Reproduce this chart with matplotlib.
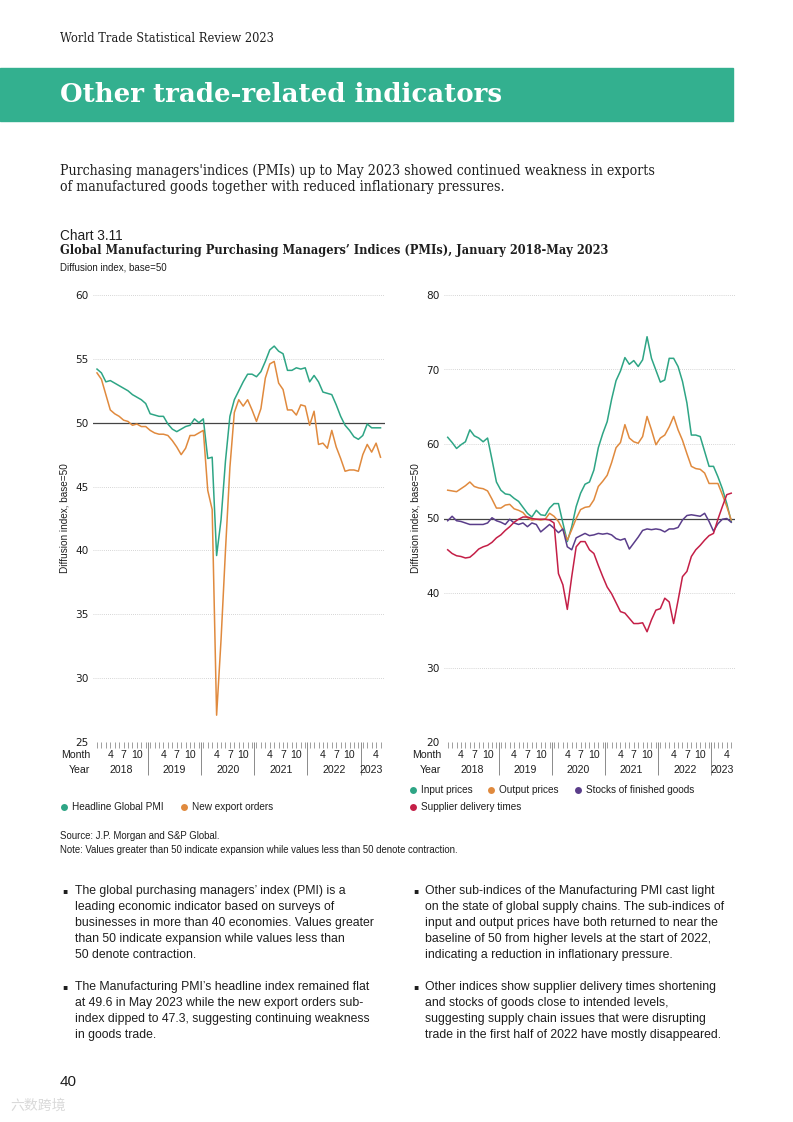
import numpy as np
import matplotlib
matplotlib.use('Agg')
import matplotlib.pyplot as plt
from matplotlib.patches import Rectangle
from matplotlib.lines import Line2D
import matplotlib.transforms as mtransforms

# Données (janvier 2018 - mai 2023, 65 mois)
headline_pmi = [54.2, 53.9, 53.2, 53.3, 53.1, 52.9, 52.7, 52.5, 52.2, 52.0, 51.8, 51.5,
                50.7, 50.6, 50.5, 50.5, 49.9, 49.5, 49.3, 49.5, 49.7, 49.8, 50.3, 50.0,
                50.3, 47.2, 47.3, 39.6, 42.4, 47.0, 50.5, 51.8, 52.5, 53.2, 53.8, 53.8,
                53.6, 54.0, 54.8, 55.7, 56.0, 55.6, 55.4, 54.1, 54.1, 54.3, 54.2, 54.3,
                53.2, 53.7, 53.2, 52.4, 52.3, 52.2, 51.4, 50.5, 49.8, 49.4, 48.9, 48.7,
                49.0, 49.9, 49.6, 49.6, 49.6]
export_orders = [53.9, 53.4, 52.2, 51.0, 50.7, 50.5, 50.2, 50.1, 49.8, 49.9, 49.7, 49.7,
                 49.4, 49.2, 49.1, 49.1, 49.0, 48.6, 48.1, 47.5, 48.0, 49.0, 49.0, 49.2,
                 49.4, 44.7, 43.2, 27.1, 33.0, 40.0, 46.5, 50.8, 51.8, 51.3, 51.8, 51.0,
                 50.1, 51.1, 53.5, 54.6, 54.8, 53.1, 52.6, 51.0, 51.0, 50.6, 51.4, 51.3,
                 49.8, 50.9, 48.3, 48.4, 48.0, 49.4, 48.1, 47.2, 46.2, 46.3, 46.3, 46.2,
                 47.5, 48.3, 47.7, 48.4, 47.3]

input_prices = [60.9, 60.2, 59.4, 59.9, 60.3, 61.9, 61.1, 60.8, 60.3, 60.8, 57.9, 54.9,
                53.8, 53.3, 53.2, 52.7, 52.3, 51.5, 50.7, 50.2, 51.1, 50.5, 50.4, 51.4,
                52.0, 52.0, 49.4, 46.9, 48.9, 51.6, 53.4, 54.6, 54.9, 56.5, 59.5, 61.4,
                63.0, 66.0, 68.5, 69.8, 71.6, 70.7, 71.2, 70.4, 71.3, 74.4, 71.5, 69.9,
                68.3, 68.6, 71.5, 71.5, 70.4, 68.4, 65.5, 61.2, 61.2, 61.0, 59.0, 57.0,
                57.0, 55.6, 54.0, 52.0, 49.6]
output_prices = [53.8, 53.7, 53.6, 54.0, 54.4, 54.9, 54.3, 54.1, 54.0, 53.7, 52.6, 51.4,
                 51.4, 51.8, 51.9, 51.3, 51.1, 50.8, 50.1, 49.8, 49.9, 49.8, 49.9, 50.7,
                 50.3, 49.6, 48.5, 47.1, 48.5, 50.0, 51.2, 51.5, 51.6, 52.5, 54.3, 55.0,
                 55.8, 57.5, 59.5, 60.2, 62.6, 60.8, 60.3, 60.1, 61.0, 63.7, 61.9, 59.9,
                 60.8, 61.2, 62.3, 63.7, 61.9, 60.5, 58.7, 57.0, 56.7, 56.6, 56.1, 54.7,
                 54.7, 54.7, 53.2, 51.6, 49.8]
stocks_finished = [49.7, 50.3, 49.7, 49.6, 49.4, 49.2, 49.2, 49.2, 49.2, 49.4, 50.1, 49.7,
                   49.5, 49.2, 49.9, 49.4, 49.2, 49.4, 48.9, 49.4, 49.2, 48.2, 48.7, 49.2,
                   48.7, 48.1, 48.6, 46.2, 45.8, 47.4, 47.7, 48.0, 47.7, 47.8, 48.0, 47.9,
                   48.0, 47.8, 47.3, 47.1, 47.3, 45.9, 46.7, 47.5, 48.4, 48.6, 48.5, 48.6,
                   48.5, 48.2, 48.6, 48.6, 48.8, 49.8, 50.4, 50.5, 50.4, 50.3, 50.7, 49.6,
                   48.3, 49.3, 49.9, 50.0, 49.5]
supplier_delivery = [45.8, 45.3, 45.0, 44.9, 44.7, 44.8, 45.3, 45.9, 46.2, 46.4, 46.8, 47.4,
                     47.8, 48.4, 48.9, 49.5, 49.9, 50.2, 50.2, 50.0, 49.9, 49.9, 49.9, 49.8,
                     49.4, 42.6, 41.1, 37.8, 42.2, 46.2, 46.9, 46.9, 45.8, 45.3, 43.7, 42.2,
                     40.8, 39.9, 38.7, 37.5, 37.3, 36.6, 35.9, 35.9, 36.0, 34.8, 36.4, 37.7,
                     37.9, 39.3, 38.8, 35.9, 39.0, 42.2, 42.9, 44.9, 45.8, 46.4, 47.1, 47.7,
                     48.0, 49.9, 51.6, 53.2, 53.4]

years = ['2018', '2019', '2020', '2021', '2022', '2023']
month_labels = ['4', '7', '10']

GREEN = '#2ea585'
ORANGE = '#e08a3e'
PURPLE = '#5a3d8a'
RED = '#c41f47'
BANNER = '#33b08f'
TXT = '#1e1e1e'

SANS = ['Liberation Sans', 'DejaVu Sans']
SERIF = ['DejaVu Serif']

W, H = 793, 1122
fig = plt.figure(figsize=(W / 100, H / 100), dpi=100)


def fx(x):
    return x / W


def fy(y):
    return 1 - y / H


def page_text(x, y, s, **kw):
    kw.setdefault('color', TXT)
    kw.setdefault('va', 'center')
    kw.setdefault('ha', 'left')
    fig.text(fx(x), fy(y), s, **kw)


# En-tête de page
page_text(60, 38, 'World Trade Statistical Review 2023', family=SERIF, fontsize=9.2,
          fontstretch='condensed')
fig.patches.append(Rectangle((0, fy(121)), 733 / W, (121 - 68) / H,
                             transform=fig.transFigure, color=BANNER, zorder=0))
page_text(60, 95, 'Other trade-related indicators', family=SERIF, fontsize=18.7,
          fontweight='bold', color='white')
page_text(60, 171, "Purchasing managers'indices (PMIs) up to May 2023 showed continued weakness in exports",
          family=SERIF, fontsize=10.1, fontstretch='condensed')
page_text(60, 187, 'of manufactured goods together with reduced inflationary pressures.',
          family=SERIF, fontsize=10.1, fontstretch='condensed')

page_text(60, 236, 'Chart 3.11', family=SANS, fontsize=9.8)
page_text(60, 251, "Global Manufacturing Purchasing Managers\u2019 Indices (PMIs), January 2018-May 2023",
          family=SERIF, fontsize=9.1, fontweight='bold', fontstretch='condensed')
page_text(60, 268, 'Diffusion index, base=50', family=SANS, fontsize=7)


def make_panel(left_px, right_px, x0_px, ylim, yticks, gridticks, series):
    # x0_px : position du premier mois (janvier 2018) en pixels
    step = 4.43
    ax = fig.add_axes([fx(left_px), fy(742), (right_px - left_px) / W, (742 - 295) / H])
    ax.set_xlim((left_px - x0_px) / step, (right_px - x0_px) / step)
    ax.set_ylim(*ylim)
    for s in ax.spines.values():
        s.set_visible(False)
    for g in gridticks:
        ax.axhline(g, color='#c8c8c8', lw=0.6, ls=(0, (1, 1.5)), zorder=0)
    ax.axhline(50, color='#444444', lw=0.9, zorder=1)
    x = np.arange(65)
    for vals, col in series:
        ax.plot(x, vals, color=col, lw=1.1, zorder=3)
    ax.set_yticks(yticks)
    ax.tick_params(axis='y', length=0, labelsize=7.6, labelcolor=TXT, pad=3)
    # graduations mensuelles et séparateurs d'années
    ax.set_xticks(np.arange(11.5, 60, 12))
    ax.set_xticks(np.arange(65), minor=True)
    ax.tick_params(axis='x', which='major', length=24, width=0.6, color='#777777',
                   labelbottom=False, direction='out')
    ax.tick_params(axis='x', which='minor', length=4.5, width=0.5, color='#777777',
                   direction='out')
    trans = mtransforms.blended_transform_factory(ax.transData, ax.transAxes)
    dy_month = -13 / (742 - 295)
    dy_year = -28 / (742 - 295)
    for k, yr in enumerate(years):
        start = 12 * k
        for lab, m in zip(month_labels, [3, 6, 9]):
            if start + m <= 64:
                ax.text(start + m, dy_month, lab, transform=trans, ha='center', va='center',
                        fontsize=7.6, family=SANS, color=TXT)
        end = min(start + 11.5, 64.5)
        ax.text((start - 0.5 + end) / 2, dy_year, yr, transform=trans, ha='center',
                va='center', fontsize=7.6, family=SANS, color=TXT)
    ax.text(-1.5, dy_month, 'Month', transform=trans,
            ha='right', va='center', fontsize=7.6, family=SANS, color=TXT)
    ax.text(-1.5, dy_year, 'Year', transform=trans, ha='right', va='center',
            fontsize=7.6, family=SANS, color=TXT)
    ax.set_ylabel('Diffusion index, base=50', fontsize=7.2, family=SANS, color=TXT, labelpad=4)
    return ax


make_panel(93, 385, 97, (25, 60), [25, 30, 35, 40, 45, 50, 55, 60],
           [30, 35, 40, 45, 55, 60],
           [(headline_pmi, GREEN), (export_orders, ORANGE)])
make_panel(444, 735, 447.7, (20, 80), [20, 30, 40, 50, 60, 70, 80],
           [30, 40, 60, 70, 80],
           [(input_prices, GREEN), (output_prices, ORANGE),
            (stocks_finished, PURPLE), (supplier_delivery, RED)])


def legend_item(x, y, color, label):
    fig.lines.append(Line2D([fx(x)], [fy(y)], marker='o', markersize=5, color=color,
                            markeredgewidth=0, transform=fig.transFigure))
    page_text(x + 8, y, label, family=SANS, fontsize=7.2)


legend_item(64, 807, GREEN, 'Headline Global PMI')
legend_item(184, 807, ORANGE, 'New export orders')
legend_item(413, 790, GREEN, 'Input prices')
legend_item(491, 790, ORANGE, 'Output prices')
legend_item(578, 790, PURPLE, 'Stocks of finished goods')
legend_item(413, 807, RED, 'Supplier delivery times')

page_text(60, 836, 'Source: J.P. Morgan and S&P Global.', family=SANS, fontsize=6.9)
page_text(60, 850, 'Note: Values greater than 50 indicate expansion while values less than 50 denote contraction.',
          family=SANS, fontsize=6.9)

# Texte en puces
left_bullets = [
    ["The global purchasing managers\u2019 index (PMI) is a",
     "leading economic indicator based on surveys of",
     "businesses in more than 40 economies. Values greater",
     "than 50 indicate expansion while values less than",
     "50 denote contraction."],
    ["The Manufacturing PMI\u2019s headline index remained flat",
     "at 49.6 in May 2023 while the new export orders sub-",
     "index dipped to 47.3, suggesting continuing weakness",
     "in goods trade."],
]
right_bullets = [
    ["Other sub-indices of the Manufacturing PMI cast light",
     "on the state of global supply chains. The sub-indices of",
     "input and output prices have both returned to near the",
     "baseline of 50 from higher levels at the start of 2022,",
     "indicating a reduction in inflationary pressure."],
    ["Other indices show supplier delivery times shortening",
     "and stocks of goods close to intended levels,",
     "suggesting supply chain issues that were disrupting",
     "trade in the first half of 2022 have mostly disappeared."],
]
for bx, tx, groups in [(62, 75, left_bullets), (413, 425, right_bullets)]:
    for top, lines in zip([891, 987], groups):
        page_text(bx, top, '\u25aa', family=['DejaVu Sans'], fontsize=5.5)
        for j, line in enumerate(lines):
            page_text(tx, top + 16 * j, line, family=SANS, fontsize=8.85)

page_text(60, 1082, '40', family=SANS, fontsize=11)
page_text(10, 1106, '\u516d\u6570\u8de8\u5883', family=['Noto Sans CJK SC', 'DejaVu Sans'],
          fontsize=10, color='#d0d0d0', alpha=0.8)

fig.savefig('out.png', dpi=100)
